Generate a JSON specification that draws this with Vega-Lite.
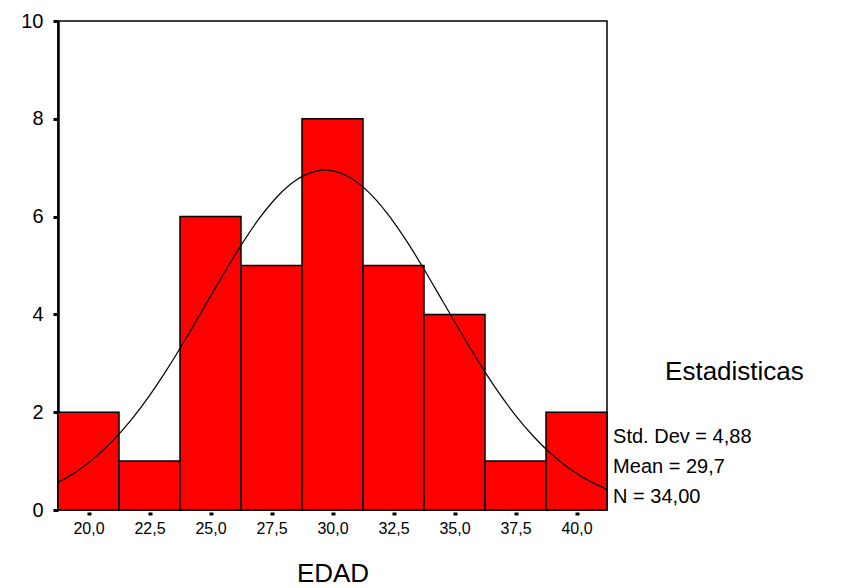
{
  "$schema": "https://vega.github.io/schema/vega-lite/v6.json",
  "width": 549,
  "height": 489,
  "autosize": "none",
  "padding": {"left": 58, "top": 21, "right": 248, "bottom": 78},
  "background": "white",
  "config": {
    "font": "Liberation Sans",
    "view": {"stroke": "black", "strokeWidth": 1.5},
    "axis": {"grid": false, "labelColor": "black", "titleColor": "black", "tickColor": "black", "domainColor": "black"}
  },
  "datasets": {
    "bins": [
      {"start": 18.75, "end": 21.25, "count": 2},
      {"start": 21.25, "end": 23.75, "count": 1},
      {"start": 23.75, "end": 26.25, "count": 6},
      {"start": 26.25, "end": 28.75, "count": 5},
      {"start": 28.75, "end": 31.25, "count": 8},
      {"start": 31.25, "end": 33.75, "count": 5},
      {"start": 33.75, "end": 36.25, "count": 4},
      {"start": 36.25, "end": 38.75, "count": 1},
      {"start": 38.75, "end": 41.25, "count": 2}
    ],
    "curve": [
      {"edad": 18.75, "freq": 0.5605},
      {"edad": 19.5, "freq": 0.782},
      {"edad": 20.25, "freq": 1.0656},
      {"edad": 21.0, "freq": 1.4183},
      {"edad": 21.75, "freq": 1.8435},
      {"edad": 22.5, "freq": 2.34},
      {"edad": 23.25, "freq": 2.901},
      {"edad": 24.0, "freq": 3.5127},
      {"edad": 24.75, "freq": 4.1544},
      {"edad": 25.5, "freq": 4.798},
      {"edad": 26.25, "freq": 5.4123},
      {"edad": 27.0, "freq": 5.9626},
      {"edad": 27.75, "freq": 6.4156},
      {"edad": 28.5, "freq": 6.7419},
      {"edad": 29.25, "freq": 6.9193},
      {"edad": 29.7, "freq": 6.9488},
      {"edad": 30.0, "freq": 6.9357},
      {"edad": 30.75, "freq": 6.7898},
      {"edad": 31.5, "freq": 6.4917},
      {"edad": 32.25, "freq": 6.0621},
      {"edad": 33.0, "freq": 5.5288},
      {"edad": 33.75, "freq": 4.9244},
      {"edad": 34.5, "freq": 4.2836},
      {"edad": 35.25, "freq": 3.6394},
      {"edad": 36.0, "freq": 3.02},
      {"edad": 36.75, "freq": 2.4472},
      {"edad": 37.5, "freq": 1.9371},
      {"edad": 38.25, "freq": 1.4974},
      {"edad": 39.0, "freq": 1.1304},
      {"edad": 39.75, "freq": 0.8335},
      {"edad": 40.5, "freq": 0.6004},
      {"edad": 41.25, "freq": 0.4222}
    ],
    "heading": [{"label": "Estadisticas"}],
    "sd": [{"label": "Std. Dev = 4,88"}],
    "mean": [{"label": "Mean = 29,7"}],
    "n": [{"label": "N = 34,00"}]
  },
  "layer": [
    {
      "data": {"name": "bins"},
      "mark": {"type": "rect", "fill": "#FF0000", "stroke": "black", "strokeWidth": 1.5},
      "encoding": {
        "x": {
          "field": "start", "type": "quantitative",
          "scale": {"domain": [18.75, 41.25], "nice": false, "zero": false},
          "axis": {
            "values": [20, 22.5, 25, 27.5, 30, 32.5, 35, 37.5, 40],
            "labelExpr": "replace(format(datum.value, '.1f'), '.', ',')",
            "domain": false, "offset": 2, "tickSize": 3, "tickWidth": 4,
            "labelFontSize": 16, "labelPadding": 5, "labelFont": "Liberation Sans",
            "title": "EDAD", "titleFontSize": 26, "titleFontWeight": "normal", "titlePadding": 24
          }
        },
        "x2": {"field": "end"},
        "y": {
          "field": "count", "type": "quantitative",
          "scale": {"domain": [0, 10], "nice": false},
          "axis": {
            "values": [0, 2, 4, 6, 8, 10],
            "domain": true, "domainWidth": 2.5, "tickSize": 5, "tickWidth": 3,
            "labelFontSize": 20, "labelPadding": 10, "title": null
          }
        },
        "y2": {"datum": 0}
      }
    },
    {
      "data": {"name": "curve"},
      "mark": {"type": "line", "color": "black", "strokeWidth": 1.2, "interpolate": "monotone"},
      "encoding": {
        "x": {"field": "edad", "type": "quantitative"},
        "y": {"field": "freq", "type": "quantitative"}
      }
    },
    {
      "data": {"name": "heading"},
      "mark": {"type": "text", "align": "left", "baseline": "middle", "fontSize": 26, "color": "black"},
      "encoding": {"text": {"field": "label"}, "x": {"datum": 43.63, "type": "quantitative"}, "y": {"datum": 2.82, "type": "quantitative"}}
    },
    {
      "data": {"name": "sd"},
      "mark": {"type": "text", "align": "left", "baseline": "middle", "fontSize": 20, "color": "black"},
      "encoding": {"text": {"field": "label"}, "x": {"datum": 41.5, "type": "quantitative"}, "y": {"datum": 1.49, "type": "quantitative"}}
    },
    {
      "data": {"name": "mean"},
      "mark": {"type": "text", "align": "left", "baseline": "middle", "fontSize": 20, "color": "black"},
      "encoding": {"text": {"field": "label"}, "x": {"datum": 41.5, "type": "quantitative"}, "y": {"datum": 0.88, "type": "quantitative"}}
    },
    {
      "data": {"name": "n"},
      "mark": {"type": "text", "align": "left", "baseline": "middle", "fontSize": 20, "color": "black"},
      "encoding": {"text": {"field": "label"}, "x": {"datum": 41.5, "type": "quantitative"}, "y": {"datum": 0.27, "type": "quantitative"}}
    }
  ]
}
